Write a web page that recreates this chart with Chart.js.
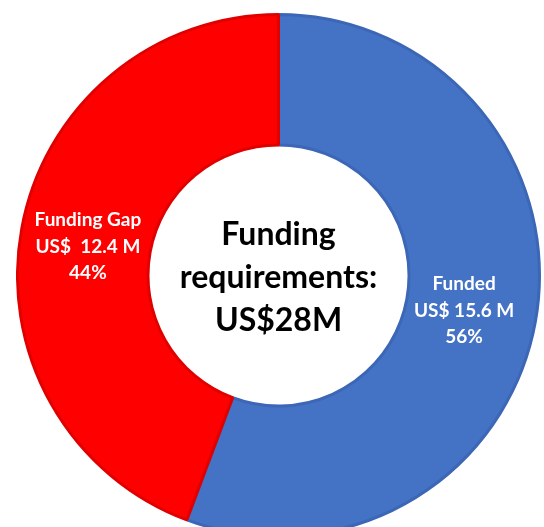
<!DOCTYPE html>
<html>
<head>
<meta charset="utf-8">
<script src="https://cdn.jsdelivr.net/npm/chart.js@4.4.1/dist/chart.umd.min.js"></script>
<style>
  html, body { margin: 0; padding: 0; background: #fff; width: 544px; height: 527px; overflow: hidden; }
  #wrap { position: absolute; left: 16px; top: 13px; width: 525px; height: 525px; }
</style>
</head>
<body>
<div id="wrap"><canvas id="fundingChart"></canvas></div>
<script>
// data
const categories = ['Funded', 'Funding Gap'];
const amounts = [15.6, 12.4];
const amountLabels = ['US$ 15.6 M', 'US$  12.4 M'];
const percentLabels = ['56%', '44%'];
const centerLines = ['Funding', 'requirements:', 'US$28M'];

const fillColors = ['#4472C4', '#FF0000'];
const edgeColors = ['#3C66B6', '#E00000'];
// small nudges so the labels sit where the original ones do
const labelNudge = [[-7, 0], [2, 6]];

const sliceLabels = {
    id: 'sliceLabels',
    afterDatasetsDraw(chart) {
        const ctx = chart.ctx;
        const arcs = chart.getDatasetMeta(0).data;
        ctx.save();
        ctx.textAlign = 'center';
        ctx.textBaseline = 'middle';
        ctx.fillStyle = '#ffffff';
        ctx.font = 'bold 19px Lato';
        arcs.forEach((arc, i) => {
            const { x, y, startAngle, endAngle, innerRadius, outerRadius } =
                arc.getProps(['x', 'y', 'startAngle', 'endAngle', 'innerRadius', 'outerRadius'], true);
            const mid = (startAngle + endAngle) / 2;
            const r = (innerRadius + outerRadius) / 2;
            const cx = x + Math.cos(mid) * r + labelNudge[i][0];
            const cy = y + Math.sin(mid) * r + labelNudge[i][1];
            const lines = [categories[i], amountLabels[i], percentLabels[i]];
            lines.forEach((t, k) => ctx.fillText(t, cx, cy + (k - 1) * 26.5));
        });

        // centre text
        const a = arcs[0];
        ctx.fillStyle = '#000000';
        ctx.font = 'bold 32px Lato';
        centerLines.forEach((t, k) => ctx.fillText(t, a.x, a.y + 2 + (k - 1) * 43));
        ctx.restore();
    }
};

new Chart(document.getElementById('fundingChart'), {
    type: 'doughnut',
    data: {
        labels: categories,
        datasets: [{
            data: amounts,
            backgroundColor: fillColors,
            borderColor: edgeColors,
            borderWidth: 3
        }]
    },
    options: {
        responsive: true,
        maintainAspectRatio: false,
        animation: false,
        cutout: '50%',
        layout: { padding: 0 },
        plugins: {
            legend: { display: false },
            tooltip: { enabled: false }
        }
    },
    plugins: [sliceLabels]
});
</script>
</body>
</html>
